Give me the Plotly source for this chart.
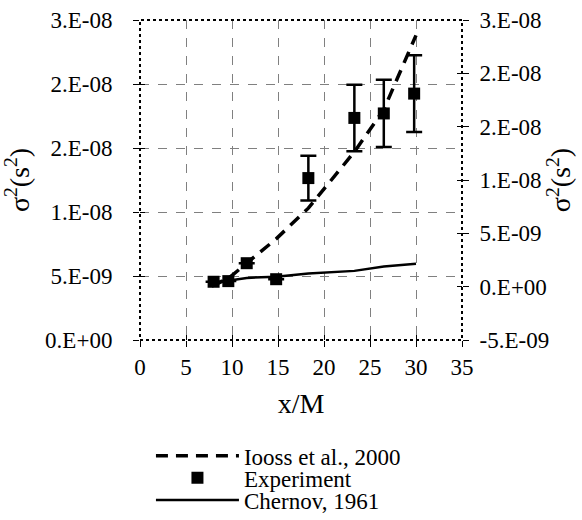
import plotly.graph_objects as go

# ---- data ----
x_exp = [8.0, 9.6, 11.6, 14.8, 18.3, 23.3, 26.5, 29.8]
y_exp = [4.55e-9, 4.6e-9, 6.0e-9, 4.75e-9, 12.65e-9, 17.35e-9, 17.7e-9, 19.25e-9]
err_exp = [None, None, None, None, 1.75e-9, 2.6e-9, 2.63e-9, 3.0e-9]

x_iooss = [7.8, 9.6, 11.6, 14.8, 18.3, 23.3, 26.5, 30.0]
y_iooss = [4.2e-9, 4.8e-9, 6.0e-9, 7.9e-9, 10.3e-9, 14.7e-9, 18.0e-9, 23.8e-9]

x_chernov = [7.8, 9.6, 11.6, 14.8, 18.3, 23.3, 26.5, 30.0]
y_chernov = [4.45e-9, 4.65e-9, 4.85e-9, 4.95e-9, 5.2e-9, 5.4e-9, 5.75e-9, 5.95e-9]

x_ticks = [0, 5, 10, 15, 20, 25, 30, 35]
y_left_ticks = [0, 5e-9, 1e-8, 1.5e-8, 2e-8, 2.5e-8]
y_left_text = ["0.E+00", "5.E-09", "1.E-08", "2.E-08", "2.E-08", "3.E-08"]
y_right_ticks = [-5e-9, 0, 5e-9, 1e-8, 1.5e-8, 2e-8, 2.5e-8]
y_right_text = ["-5.E-09", "0.E+00", "5.E-09", "1.E-08", "2.E-08", "2.E-08", "3.E-08"]

X_RANGE = [0, 35]
Y_LEFT_RANGE = [0, 2.5e-8]
Y_RIGHT_RANGE = [-5e-9, 2.5e-8]

FONT = "Liberation Serif"
FS = 23
TITLE = "σ<sup>2</sup>(s<sup>2</sup>)"

fig = go.Figure()
fig.add_trace(go.Scatter(
    x=x_iooss, y=y_iooss, mode="lines", name="Iooss et al., 2000",
    legend="legend",
    line=dict(color="black", width=3.5, dash="12px,8px")))
fig.add_trace(go.Scatter(
    x=x_exp, y=y_exp, mode="markers", name="Experiment",
    legend="legend2",
    marker=dict(symbol="square", size=12, color="black"),
    error_y=dict(type="data", array=err_exp, visible=True,
                 color="black", thickness=2.5, width=8)))
fig.add_trace(go.Scatter(
    x=x_chernov, y=y_chernov, mode="lines", name="Chernov, 1961",
    legend="legend3",
    line=dict(color="black", width=2.5)))
# empty traces so the secondary axes (right scale, inner tick halves) are drawn
fig.add_trace(go.Scatter(x=[None], y=[None], yaxis="y2", showlegend=False,
                         hoverinfo="skip", mode="lines"))
fig.add_trace(go.Scatter(x=[None], y=[None], xaxis="x2", yaxis="y3",
                         showlegend=False, hoverinfo="skip", mode="lines"))
fig.add_trace(go.Scatter(x=[None], y=[None], xaxis="x2", yaxis="y4",
                         showlegend=False, hoverinfo="skip", mode="lines"))

def leg(ypaper):
    return dict(x=0.034, y=ypaper, xanchor="left", yanchor="middle",
                font=dict(family=FONT, size=FS), itemwidth=83,
                bgcolor="rgba(0,0,0,0)", borderwidth=0)

common_inner = dict(ticks="inside", ticklen=5, tickcolor="black",
                    showticklabels=False, showgrid=False, zeroline=False,
                    showline=False)

fig.update_layout(
    width=582, height=520,
    margin=dict(l=140, r=120, t=20, b=180, autoexpand=False),
    paper_bgcolor="white", plot_bgcolor="white",
    font=dict(family=FONT, size=FS, color="black"),
    showlegend=True,
    legend=leg(-0.362),
    legend2=leg(-0.431),
    legend3=leg(-0.5),
    xaxis=dict(range=X_RANGE, tickvals=x_ticks, ticks="outside", ticklen=6,
               tickcolor="black", showline=False, zeroline=False,
               showgrid=True, gridcolor="#808080", griddash="dash", gridwidth=1,
               title=dict(text="x/M", standoff=14)),
    xaxis2=dict(range=X_RANGE, tickvals=x_ticks, overlaying="x", side="bottom",
                anchor="y", **common_inner),
    yaxis=dict(range=Y_LEFT_RANGE, tickvals=y_left_ticks, ticktext=y_left_text,
               ticks="outside", ticklen=6, tickcolor="black", showline=False,
               ticklabelstandoff=16,
               zeroline=False, showgrid=True, gridcolor="#808080",
               griddash="dash", gridwidth=1,
               title=dict(text=TITLE, standoff=14)),
    yaxis2=dict(range=Y_RIGHT_RANGE, tickvals=y_right_ticks, ticktext=y_right_text,
                overlaying="y", side="right", anchor="x",
                ticks="outside", ticklen=6, tickcolor="black", showline=False,
                ticklabelstandoff=6,
                zeroline=False, showgrid=False,
                title=dict(text=TITLE, standoff=0)),
    yaxis3=dict(range=Y_LEFT_RANGE, tickvals=y_left_ticks, overlaying="y",
                side="left", anchor="x2", **common_inner),
    yaxis4=dict(range=Y_RIGHT_RANGE, tickvals=y_right_ticks, overlaying="y",
                side="right", anchor="x2", **common_inner),
)

fig.add_shape(type="rect", xref="paper", yref="paper", x0=0, y0=0, x1=1, y1=1,
              line=dict(color="black", width=2, dash="dot"), layer="above")

fig.write_html("out.html",
               config={"displayModeBar": False},
               post_script="document.body.style.margin='0px';"
                           "document.body.style.padding='0px';")
